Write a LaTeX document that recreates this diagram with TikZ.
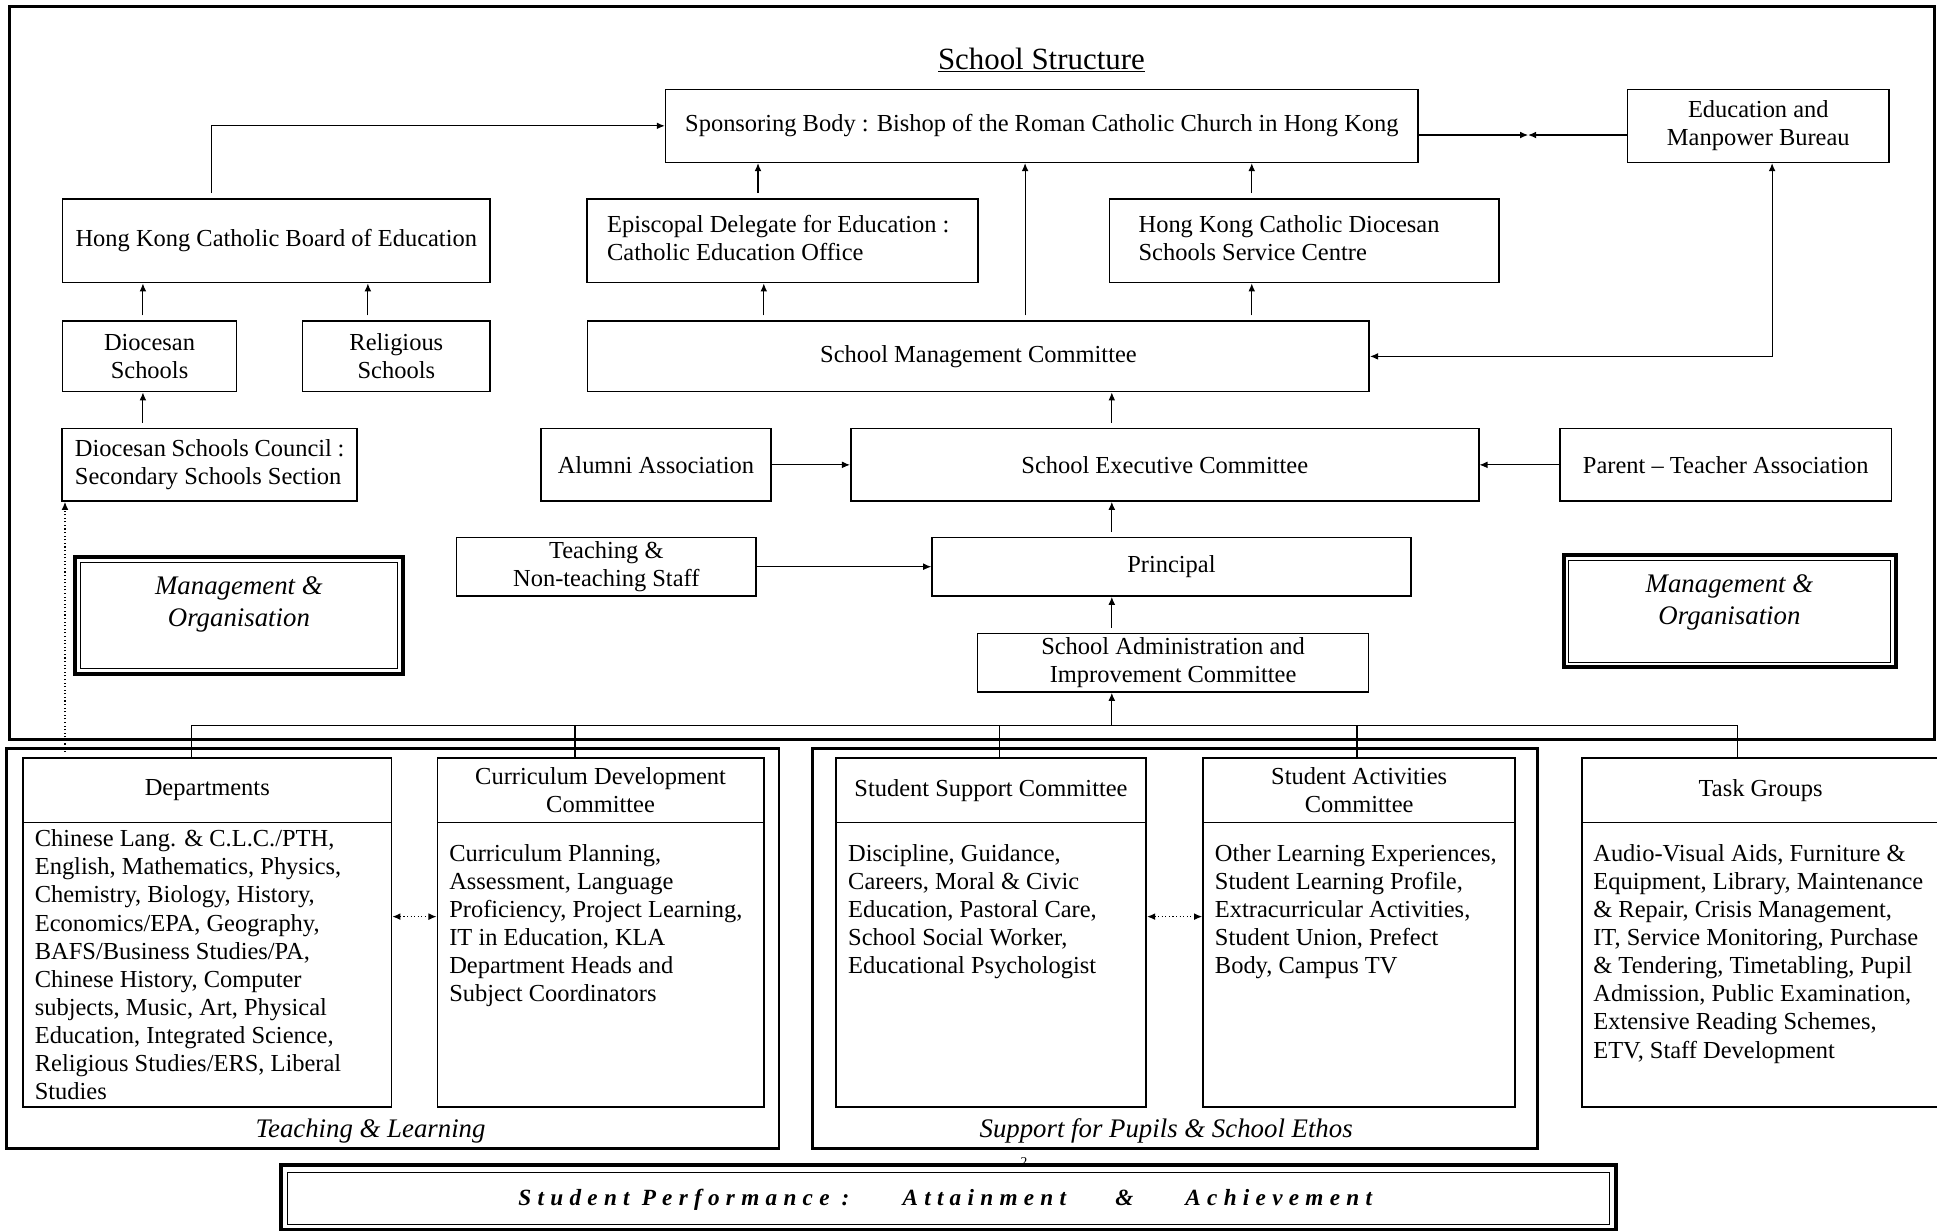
\documentclass[tikz,border=0pt]{standalone}
\usepackage{fontspec}
\setmainfont{Liberation Serif}
\newfontfamily\bannerfont[LetterSpace=27]{Liberation Serif}
\usetikzlibrary{arrows.meta}
\newcommand\fsn{\fontsize{19.8pt}{22.7pt}\selectfont}
\newcommand\fsi{\fontsize{21.7pt}{25.6pt}\selectfont\itshape}
\newcommand\lcol[2]{\begin{tabular}{@{}p{#1}@{}}#2\end{tabular}}
\begin{document}
\begin{tikzpicture}[x=1pt,y=-1pt,
  corners/.style args={#1/#2/#3/#4}{minimum width={(#3-#1)*1pt}, minimum height={(#4-#2)*1pt}, at={({(#1+#3)/2},{(#2+#4)/2})}},
  box/.style={draw, line width=1.3pt, inner sep=0pt, align=center, font=\fsn},
  conn/.style={line width=0.9pt},
  arr/.style={conn, -{Latex[length=6.5pt,width=5.5pt]}},
  arrs/.style={arr, shorten <=4pt},
  darr/.style={conn, dotted, {Latex[length=6.5pt,width=5.5pt]}-{Latex[length=6.5pt,width=5.5pt]}},
  frame/.style={draw, line width=2.4pt, inner sep=0pt},
  thickframe/.style={draw, line width=3.4pt, inner sep=0pt},
  thinframe/.style={draw, line width=0.8pt, inner sep=0pt},
  body/.style={inner sep=0pt, align=left, anchor=north west, font=\fsn},
  lbl/.style={inner sep=0pt, align=center, font=\fsi}]

\clip (0,0) rectangle (1568,996);
\fill[white] (0,0) rectangle (1568,996);

% frames
\node[frame, corners=8/5.4/1566/598.5] (outer) {};
\node[frame, corners=5/605.8/630.6/929.5] (tlframe) {};
\node[frame, corners=658/605.8/1244.6/929.5] (spframe) {};

% title
\node[font=\fontsize{25pt}{30pt}\selectfont, inner sep=0pt, anchor=base] (title) at (843,56) {\underline{School Structure}};

% upper boxes
\node[box, corners=538.8/72.3/1148/131.4] (spon) {Sponsoring Body : Bishop of the Roman Catholic Church in Hong Kong};
\node[box, corners=1317.4/72.3/1529.3/131.4] (emb) {Education and\\Manpower Bureau};
\node[box, corners=50.6/161/396.7/228.8] (hkcbe) {Hong Kong Catholic Board of Education};
\node[box, corners=475.2/161/791.7/228.8] (epis) {\lcol{283.9pt}{Episcopal Delegate for Education :\\Catholic Education Office}};
\node[box, corners=898/161/1213.5/228.8] (cdssc) {\lcol{268.1pt}{Hong Kong Catholic Diocesan\\Schools Service Centre}};
\node[box, corners=50.6/260/191.5/317] (dioc) {Diocesan\\Schools};
\node[box, corners=245/260/396.7/317] (relig) {Religious\\Schools};
\node[box, corners=475.7/260/1108.4/317] (smc) {School Management Committee};
\node[box, corners=50.4/347/289/405.6] (dsc) {\lcol{218pt}{Diocesan Schools Council :\\Secondary Schools Section}};
\node[box, corners=438/347/624/405.6] (alum) {Alumni Association};
\node[box, corners=688.7/347/1197/405.6] (sec) {School Executive Committee};
\node[box, corners=1263/347/1531/405.6] (pta) {Parent -- Teacher Association};
\node[box, corners=369.6/435/612/482.5] (staff) {Teaching \&\\Non-teaching Staff};
\node[box, corners=754.5/435/1142/482.5] (prin) {Principal};
\node[box, corners=791.4/512.7/1107.8/560.2] (saic) {School Administration and\\Improvement Committee};

% Management & Organisation boxes
\node[thickframe, corners=60.7/451/326/545.5] (mgl) {};
\node[thinframe, corners=64.8/455/322/541.5] (mgli) {};
\node[lbl] (mgltext) at (193.4,489.5) {Management \&\\Organisation};
\node[thickframe, corners=1265.8/449.3/1534.6/540] (mgr) {};
\node[thinframe, corners=1270/453.5/1530.5/536] (mgri) {};
\node[lbl] (mgrtext) at (1400,487.5) {Management \&\\Organisation};

% lower column boxes
\node[box, corners=18.6/613.6/317/665.7] (dephead) {Departments};
\node[box, corners=18.6/665.7/317/895.9] (depbody) {};
\node[body] (deptext) at (28,671.6) {Chinese Lang. \& C.L.C./PTH,\\English, Mathematics, Physics,\\Chemistry, Biology, History,\\Economics/EPA, Geography,\\BAFS/Business Studies/PA,\\Chinese History, Computer\\subjects, Music, Art, Physical\\Education, Integrated Science,\\Religious Studies/ERS, Liberal\\Studies};

\node[box, corners=354/613.6/618.3/665.7] (cdchead) {Curriculum Development\\Committee};
\node[box, corners=354/665.7/618.3/895.9] (cdcbody) {};
\node[body] (cdctext) at (363.5,683.6) {Curriculum Planning,\\Assessment, Language\\Proficiency, Project Learning,\\IT in Education, KLA\\Department Heads and\\Subject Coordinators};

\node[box, corners=676.5/613.6/927.9/665.7] (sschead) {Student Support Committee};
\node[box, corners=676.5/665.7/927.9/895.9] (sscbody) {};
\node[body] (ssctext) at (686.4,683.6) {Discipline, Guidance,\\Careers, Moral \& Civic\\Education, Pastoral Care,\\School Social Worker,\\Educational Psychologist};

\node[box, corners=973.8/613.6/1226.6/665.7] (sachead) {Student Activities\\Committee};
\node[box, corners=973.8/665.7/1226.6/895.9] (sacbody) {};
\node[body] (sactext) at (983.3,683.6) {Other Learning Experiences,\\Student Learning Profile,\\Extracurricular Activities,\\Student Union, Prefect\\Body, Campus TV};

\node[box, corners=1280.4/613.6/1570/665.7] (tghead) {Task Groups};
\node[box, corners=1280.4/665.7/1570/895.9] (tgbody) {};
\node[body] (tgtext) at (1289.6,683.6) {Audio-Visual Aids, Furniture \&\\Equipment, Library, Maintenance\\\& Repair, Crisis Management,\\IT, Service Monitoring, Purchase\\\& Tendering, Timetabling, Pupil\\Admission, Public Examination,\\Extensive Reading Schemes,\\ETV, Staff Development};

\node[lbl] (tllabel) at (300,915.5) {Teaching \& Learning};
\node[lbl] (splabel) at (944,915.5) {Support for Pupils \& School Ethos};

% connectors (upper)
\draw[arrs] (171.3,0 |- hkcbe.north) |- (spon.west);
\draw[arrs] (115.7,0 |- dioc.north) -- (115.7,0 |- hkcbe.south);
\draw[arrs] (297.8,0 |- relig.north) -- (297.8,0 |- hkcbe.south);
\draw[arrs] (115.7,0 |- dsc.north) -- (115.7,0 |- dioc.south);
\draw[arrs] (613.6,0 |- epis.north) -- (613.6,0 |- spon.south);
\draw[arrs] (618.3,0 |- smc.north) -- (618.3,0 |- epis.south);
\draw[arrs] (829.8,0 |- smc.north) -- (829.8,0 |- spon.south);
\draw[arrs] (1013.3,0 |- cdssc.north) -- (1013.3,0 |- spon.south);
\draw[arrs] (1013.3,0 |- smc.north) -- (1013.3,0 |- cdssc.south);
\coordinate (meet) at (1237,109.3);
\draw[arr] (spon.east |- meet) -- (meet);
\draw[arr] (emb.west |- meet) -- (meet);
\draw[conn, {Latex[length=6.5pt,width=5.5pt]}-{Latex[length=6.5pt,width=5.5pt]}] (emb.south -| 1434.5,0) |- (smc.east);
\draw[arrs] (900,0 |- sec.north) -- (900,0 |- smc.south);
\draw[arr] (alum.east) -- (sec.west);
\draw[arr] (pta.west) -- (sec.east);
\draw[arrs] (900,0 |- prin.north) -- (900,0 |- sec.south);
\draw[arr] (staff.east) -- (prin.west);
\draw[arrs] (900,0 |- saic.north) -- (900,0 |- prin.south);

% bus
\coordinate (busL) at (155,587.5);
\coordinate (busR) at (1406.7,587.5);
\coordinate (busA) at (900,587.5);
\draw[conn] (busL) -- (busR);
\draw[conn] (busL) -- (busL |- dephead.north);
\draw[conn] (465.5,587.5) -- (465.5,0 |- cdchead.north);
\draw[conn] (809,587.5) -- (809,0 |- sschead.north);
\draw[conn] (1098.5,587.5) -- (1098.5,0 |- sachead.north);
\draw[conn] (busR) -- (busR |- tghead.north);
\draw[arr] (busA) -- (busA |- saic.south);

% dotted connectors
\coordinate (dotstart) at (52.6,608.5);
\draw[arr, dotted] (dotstart) -- (dotstart |- dsc.south);
\draw[darr] (depbody.east |- 0,742) -- (cdcbody.west |- 0,742);
\draw[darr] (sscbody.east |- 0,742) -- (sacbody.west |- 0,742);

% page number and banner
\node[font=\fontsize{11pt}{13pt}\selectfont, inner sep=0pt] (pgno) at (829,941) {2};
\node[thickframe, fill=white, line width=3.6pt, corners=227.6/943/1308/995.5] (banner) {};
\node[thinframe, corners=233/949.3/1302.6/991.3] (bannerin) {};
\node[anchor=west, inner sep=0pt, font=\fontsize{18.8pt}{22pt}\bannerfont\bfseries\itshape] (perf) at (419.5,971) {Student Performance :\hspace{43pt}Attainment\hspace{40pt}\&\hspace{42pt}Achievement};
\end{tikzpicture}
\end{document}
